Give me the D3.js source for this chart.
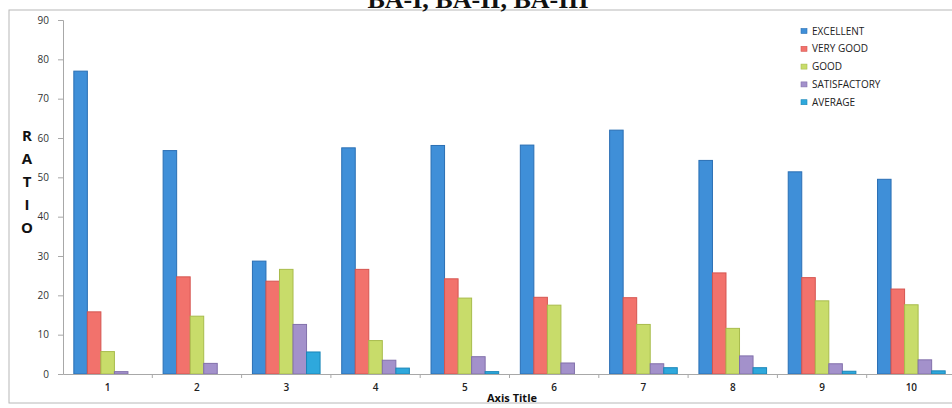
<!DOCTYPE html>
<html><head><meta charset="utf-8">
<script src="https://cdn.jsdelivr.net/npm/d3@7"></script>
<style>body{margin:0;background:#fff}svg{display:block}</style>
</head><body><svg id="c" width="952" height="408"></svg>
<script>
const categories = ["1","2","3","4","5","6","7","8","9","10"];
const seriesNames = ["EXCELLENT","VERY GOOD","GOOD","SATISFACTORY","AVERAGE"];
const excellent    = [77.0, 56.8, 28.7, 57.5, 58.1, 58.2, 62.0, 54.3, 51.4, 49.5];
const veryGood     = [15.8, 24.7, 23.6, 26.6, 24.2, 19.5, 19.4, 25.7, 24.5, 21.6];
const good         = [5.7, 14.7, 26.6, 8.5, 19.3, 17.5, 12.6, 11.6, 18.6, 17.6];
const satisfactory = [0.6, 2.7, 12.6, 3.5, 4.4, 2.8, 2.6, 4.6, 2.6, 3.6];
const average      = [0.0, 0.0, 5.6, 1.5, 0.6, 0.0, 1.6, 1.6, 0.7, 0.8];
const yTicks = [0,10,20,30,40,50,60,70,80,90];
const colors = ["#3f8fd8","#f2726c","#c8dc6a","#a391cb","#2ea8dc"];
const strokes = ["#2a6fb4","#d55550","#a8bc4c","#8270ab","#1b86b8"];

const series = [excellent, veryGood, good, satisfactory, average];
const svg = d3.select("#c");
const M = {left:63, right:956, top:20, bottom:374};

// frame
svg.append("rect").attr("x",9).attr("y",10).attr("width",960).attr("height",393)
  .attr("fill","#fff").attr("stroke","#b8b8b8").attr("stroke-width",1);

const x0 = d3.scaleBand().domain(categories).range([M.left, M.right]).paddingInner(0).paddingOuter(0);
const x1 = d3.scaleBand().domain(d3.range(5)).range([0, x0.bandwidth()]).paddingOuter(0.8).paddingInner(0);
const y = d3.scaleLinear().domain([0,90]).range([M.bottom, M.top]);

// y axis
const ya = svg.append("g").attr("transform",`translate(${M.left},0)`)
  .call(d3.axisLeft(y).tickValues(yTicks).tickSize(5).tickPadding(9));
ya.select(".domain").attr("stroke","#a8a8a8");
ya.selectAll(".tick line").attr("stroke","#a8a8a8");
ya.selectAll("text").attr("font-family","Open Sans, sans-serif").attr("font-size",10).attr("fill","#333");

// bars
categories.forEach((c,i)=>{
  series.forEach((s,j)=>{
    if (s[i] <= 0) return;
    svg.append("rect")
      .attr("x", x0(c)+x1(j)).attr("width", x1.bandwidth())
      .attr("y", y(s[i])).attr("height", y(0)-y(s[i]))
      .attr("fill", colors[j]).attr("stroke", strokes[j]).attr("stroke-width",1);
  });
});

// x axis
const xa = svg.append("g").attr("transform",`translate(0,${M.bottom})`)
  .call(d3.axisBottom(x0).tickSize(0).tickPadding(10));
xa.select(".domain").attr("stroke","#a8a8a8");
xa.selectAll("text").attr("font-family","Open Sans, sans-serif").attr("font-size",10).attr("font-weight","600").attr("fill","#222");
// category boundary ticks
svg.append("g").selectAll("line").data(categories.slice(1)).join("line")
  .attr("x1",d=>x0(d)).attr("x2",d=>x0(d)).attr("y1",M.bottom).attr("y2",M.bottom+4)
  .attr("stroke","#a8a8a8");

// y axis title (vertical letters)
const letters = ["R","A","T","I","O"];
svg.append("g").selectAll("text").data(letters).join("text")
  .attr("x",27).attr("y",(d,i)=>141+i*23)
  .attr("text-anchor","middle").attr("font-family","Open Sans, sans-serif")
  .attr("font-weight","bold").attr("font-size",15).attr("fill","#111").text(d=>d);

// x axis title
svg.append("text").attr("x",512).attr("y",402).attr("text-anchor","middle")
  .attr("font-family","Open Sans, sans-serif").attr("font-weight","bold").attr("font-size",11)
  .attr("fill","#111").text("Axis Title");

// title (partly cut at top, as in the reference)
svg.append("text").attr("x",478).attr("y",8).attr("text-anchor","middle")
  .attr("font-family","Liberation Serif, serif").attr("font-weight","bold").attr("font-size",26)
  .attr("fill","#111").text("BA-I, BA-II, BA-III");

// legend
const lg = svg.append("g").attr("transform","translate(801,31)");
seriesNames.forEach((n,i)=>{
  const g = lg.append("g").attr("transform",`translate(0,${i*17.8})`);
  g.append("rect").attr("x",0).attr("y",-2.5).attr("width",6).attr("height",5).attr("fill",colors[i]).attr("stroke",strokes[i]).attr("stroke-width",0.6);
  g.append("text").attr("x",11).attr("y",3.5).attr("font-family","Open Sans, sans-serif")
    .attr("font-size",10).attr("fill","#222").text(n);
});
</script></body></html>
